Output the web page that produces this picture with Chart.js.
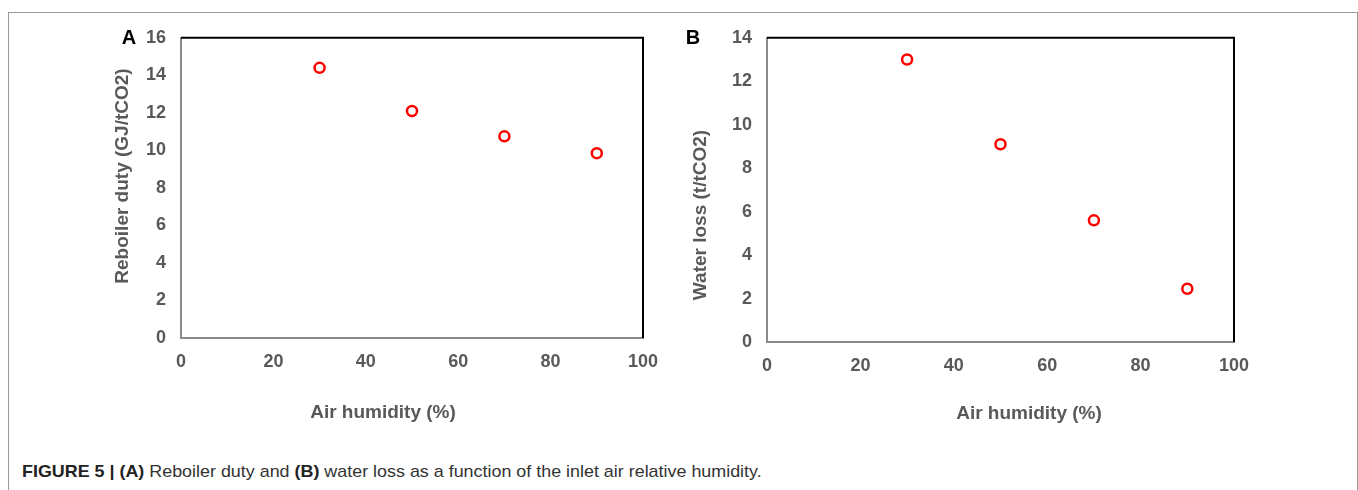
<!DOCTYPE html>
<html>
<head>
<meta charset="utf-8">
<script src="https://cdn.jsdelivr.net/npm/chart.js@4"></script>
<style>
  body { margin: 0; background: #fff; width: 1358px; height: 490px; overflow: hidden; position: relative; font-family: "Liberation Sans", Arial, sans-serif; }
  .frame { position: absolute; left: 8px; top: 12px; width: 1348px; height: 500px; border: 1px solid #9a9a9a; }
  .wrap { position: absolute; }
  .lbl { position: absolute; white-space: nowrap; font-weight: bold; color: #595959; font-size: 19px; transform: translate(-50%, -50%); }
  .rot { transform: translate(-50%, -50%) rotate(-90deg); }
  .panel { position: absolute; font-weight: bold; color: #000; font-size: 20px; transform: translate(-50%, -50%); }
  .caption { position: absolute; left: 22px; top: 462px; font-size: 17px; color: #333; white-space: nowrap; transform-origin: 0 0; }
  .caption b { color: #222; }
</style>
</head>
<body>
<div class="frame"></div>

<div class="wrap" style="left:100px; top:12px;"><canvas id="chartA" width="580" height="420"></canvas></div>
<div class="wrap" style="left:680px; top:12px;"><canvas id="chartB" width="600" height="420"></canvas></div>

<div class="panel" style="left:129px; top:37px;">A</div>
<div class="panel" style="left:693px; top:37px;">B</div>

<div class="lbl rot" style="left:122px; top:176px;">Reboiler duty (GJ/tCO2)</div>
<div class="lbl" style="left:383px; top:412px;">Air humidity (%)</div>
<div class="lbl rot" style="left:700px; top:215px;">Water loss (t/tCO2)</div>
<div class="lbl" style="left:1029px; top:413px;">Air humidity (%)</div>

<div class="caption" id="caption"><b>FIGURE 5 | (A)</b> Reboiler duty and <b>(B)</b> water loss as a function of the inlet air relative humidity.</div>

<script>
/* [ Data ] */
const humidity = [30, 50, 70, 90];
const reboilerDuty = [14.4, 12.1, 10.75, 9.85];
const waterLoss = [13.0, 9.1, 5.6, 2.45];

const xTicks = [0, 20, 40, 60, 80, 100];
const yTicksA = [0, 2, 4, 6, 8, 10, 12, 14, 16];
const yTicksB = [0, 2, 4, 6, 8, 10, 12, 14];

const grey = '#595959';
const tickFont = { family: '"Liberation Sans", Arial, sans-serif', size: 18, weight: 'bold' };

function toPoints(xs, ys) {
    var pts = [];
    for (var i = 0; i < xs.length; i++) {
        pts.push({ x: xs[i], y: ys[i] });
    }
    return pts;
}

/* [ Caption: condensed look ] */
var cap = document.getElementById('caption');
cap.style.transform = 'scaleX(' + (740 / cap.offsetWidth) + ')';

/* [ Top / right black frame ] */
const frameLines = {
    id: 'frameLines',
    afterDraw(chart) {
        const a = chart.chartArea;
        const c = chart.ctx;
        c.save();
        c.strokeStyle = '#000';
        c.lineWidth = 2;
        c.beginPath();
        c.moveTo(a.left, a.top);
        c.lineTo(a.right, a.top);
        c.lineTo(a.right, a.bottom);
        c.stroke();
        c.restore();
    }
};

function makeChart(id, values, yTicks, yWidth, pad) {
    const ctx = document.getElementById(id).getContext('2d');
    return new Chart(ctx, {
        type: 'scatter',
        data: {
            datasets: [{
                data: toPoints(humidity, values),
                pointStyle: 'circle',
                pointRadius: 5,
                pointHoverRadius: 5,
                pointBorderWidth: 2.5,
                borderColor: '#ff0000',
                backgroundColor: '#ffffff'
            }]
        },
        options: {
            responsive: false,
            animation: false,
            layout: { padding: pad },
            plugins: { legend: { display: false }, tooltip: { enabled: false } },
            scales: {
                x: {
                    type: 'linear',
                    min: xTicks[0],
                    max: xTicks[xTicks.length - 1],
                    afterBuildTicks: function (s) { s.ticks = xTicks.map(function (v) { return { value: v }; }); },
                    afterFit: function (s) { s.height = 40; },
                    grid: { display: false, drawTicks: false },
                    border: { display: true, color: '#8c8c8c', width: 2 },
                    ticks: { color: grey, font: tickFont, padding: 13, maxRotation: 0 }
                },
                y: {
                    type: 'linear',
                    min: yTicks[0],
                    max: yTicks[yTicks.length - 1],
                    afterBuildTicks: function (s) { s.ticks = yTicks.map(function (v) { return { value: v }; }); },
                    afterFit: function (s) { s.width = yWidth; },
                    grid: { display: false, drawTicks: false },
                    border: { display: true, color: '#8c8c8c', width: 2 },
                    ticks: { color: grey, font: tickFont, padding: 15 }
                }
            }
        },
        plugins: [frameLines]
    });
}

/* [ Scatter Charts ] */
let chartA = makeChart('chartA', reboilerDuty, yTicksA, 81, { left: 0, top: 20, right: 37, bottom: 54 });
let chartB = makeChart('chartB', waterLoss, yTicksB, 87, { left: 0, top: 20, right: 46, bottom: 50 });
</script>
</body>
</html>
